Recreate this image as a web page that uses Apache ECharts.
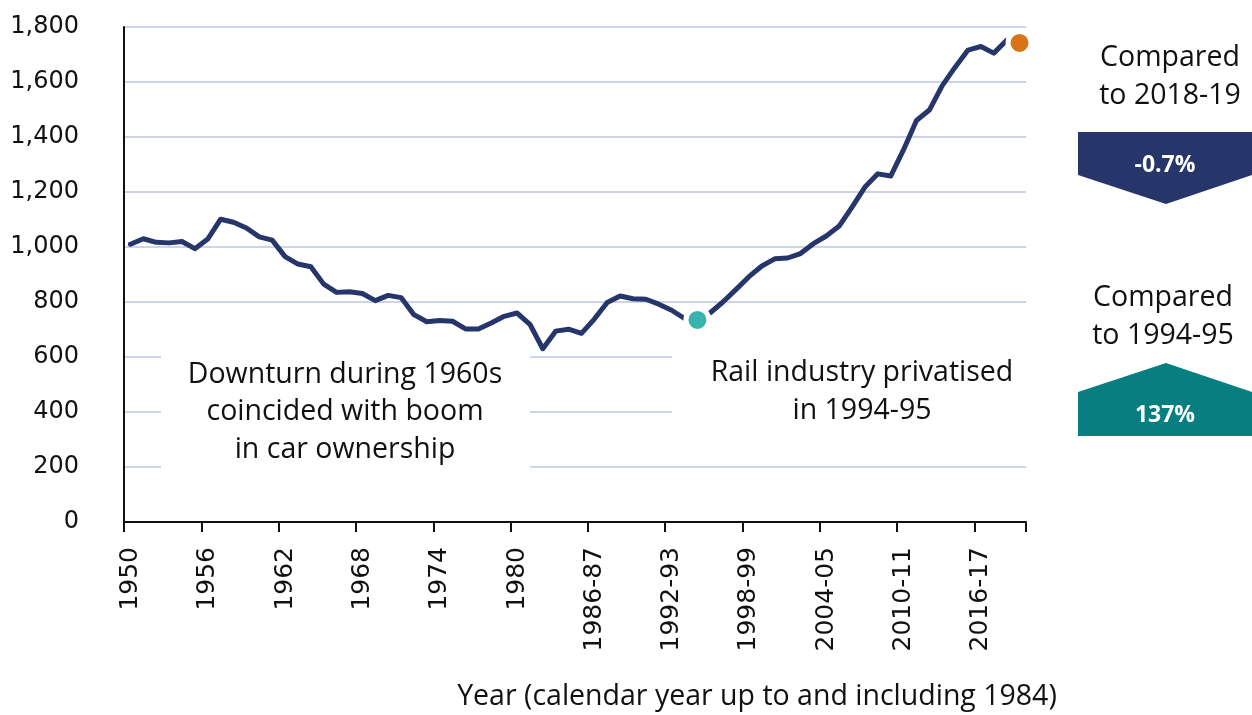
<!DOCTYPE html>
<html>
<head>
<meta charset="utf-8">
<script src="https://cdn.jsdelivr.net/npm/echarts@6/dist/echarts.min.js"></script>
<style>
  html, body { margin: 0; padding: 0; background: #ffffff; }
  #chart { width: 1252px; height: 715px; }
</style>
</head>
<body>
<div id="chart"></div>
<script>
// ---- data ----
const categories = [
  '1950','1951','1952','1953','1954','1955','1956','1957','1958','1959',
  '1960','1961','1962','1963','1964','1965','1966','1967','1968','1969',
  '1970','1971','1972','1973','1974','1975','1976','1977','1978','1979',
  '1980','1981','1982','1983','1984',
  '1985-86','1986-87','1987-88','1988-89','1989-90','1990-91','1991-92','1992-93','1993-94','1994-95',
  '1995-96','1996-97','1997-98','1998-99','1999-00','2000-01','2001-02','2002-03','2003-04','2004-05',
  '2005-06','2006-07','2007-08','2008-09','2009-10','2010-11','2011-12','2012-13','2013-14','2014-15',
  '2015-16','2016-17','2017-18','2018-19','2019-20'
];
// passenger journeys (millions)
const journeys = [
  1010, 1030, 1017, 1015, 1020, 994, 1029, 1101, 1090, 1069,
  1037, 1025, 965, 938, 928, 865, 835, 837, 831, 805,
  824, 816, 754, 728, 733, 730, 702, 702, 724, 748,
  760, 719, 630, 694, 701,
  686, 738, 798, 822, 812, 810, 792, 770, 740, 735,
  761, 801, 846, 892, 931, 957, 960, 976, 1012, 1040,
  1076, 1145, 1218, 1266, 1258, 1354, 1460, 1498, 1587, 1654,
  1716, 1729, 1705, 1752, 1742
];
const yTicks = [0, 200, 400, 600, 800, 1000, 1200, 1400, 1600, 1800];
const privatisedYear = '1994-95';
const latestYear = '2019-20';
const annotationLeft = ['Downturn during 1960s', 'coincided with boom', 'in car ownership'];
const annotationRight = ['Rail industry privatised', 'in 1994-95'];
const compareLatestTitle = ['Compared', 'to 2018-19'];
const compareLatestValue = '-0.7%';
const comparePrivTitle = ['Compared', 'to 1994-95'];
const comparePrivValue = '137%';
const xAxisTitle = 'Year (calendar year up to and including 1984)';

// ---- chart ----
const NAVY = '#26356a';
const TEAL_DOT = '#38b4ae';
const ORANGE = '#d97316';
const TEAL_BOX = '#077e80';
const GRID_COLOR = '#cdd4e9';
const TEXT_FONT = '"Open Sans"';
const TEXT_SIZE = '28.5px ';

const highlight = {};
highlight[privatisedYear] = TEAL_DOT;
highlight[latestYear] = ORANGE;

const seriesData = journeys.map((v, i) => {
  const c = highlight[categories[i]];
  if (!c) return v;
  return {
    value: v,
    symbol: 'circle',
    symbolSize: 23,
    itemStyle: { color: c, borderColor: '#ffffff', borderWidth: 5 }
  };
});

const chart = echarts.init(document.getElementById('chart'), null, { renderer: 'canvas' });

const txt = (x, y, lines, font, fill, lh) => ({
  type: 'text', z: 5, x: x, y: y,
  style: {
    text: lines.join('\n'), font: font, fill: fill,
    textAlign: 'center', textVerticalAlign: 'middle', align: 'center', verticalAlign: 'middle',
    lineHeight: lh
  }
});

const option = {
  animation: false,
  backgroundColor: '#ffffff',
  grid: { left: 124, right: 226, top: 27, bottom: 193, containLabel: false },
  xAxis: {
    type: 'category',
    data: categories,
    boundaryGap: true,
    axisLine: { show: true, lineStyle: { color: '#111111', width: 2 } },
    axisTick: { show: true, interval: 5, length: 10, lineStyle: { color: '#111111', width: 2 } },
    axisLabel: {
      interval: 5, rotate: 90, margin: 25,
      fontFamily: 'DejaVu Sans', fontSize: 25, color: '#111111'
    },
    splitLine: { show: false }
  },
  yAxis: {
    type: 'value',
    min: yTicks[0], max: yTicks[yTicks.length - 1], interval: 200,
    axisLine: { show: true, lineStyle: { color: '#111111', width: 2 } },
    axisTick: { show: false },
    axisLabel: {
      margin: 45, fontFamily: 'DejaVu Sans', fontSize: 24, color: '#111111',
      padding: [0, 0, 10, 0],
      formatter: v => v.toLocaleString('en-US')
    },
    splitLine: { show: true, lineStyle: { color: GRID_COLOR, width: 2 } }
  },
  series: [{
    type: 'line',
    data: seriesData,
    symbol: 'none',
    showSymbol: true,
    showAllSymbol: true,
    z: 3,
    lineStyle: { color: NAVY, width: 5, join: 'round', cap: 'round' },
    itemStyle: { color: NAVY }
  }],
  graphic: [
    // white panels behind annotation text (interrupt gridlines)
    { type: 'rect', z: 1, shape: { x: 161, y: 335, width: 369, height: 145 }, style: { fill: '#ffffff' } },
    { type: 'rect', z: 1, shape: { x: 672, y: 337, width: 360, height: 108 }, style: { fill: '#ffffff' } },
    txt(345, 412, annotationLeft, TEXT_SIZE + TEXT_FONT, '#111111', 37.5),
    txt(862, 392, annotationRight, TEXT_SIZE + TEXT_FONT, '#111111', 37.5),
    // comparison vs latest year
    txt(1170, 77, compareLatestTitle, TEXT_SIZE + TEXT_FONT, '#111111', 38),
    { type: 'polygon', z: 4, shape: { points: [[1078, 132], [1252, 132], [1252, 175], [1166, 204], [1078, 175]] },
      style: { fill: NAVY } },
    txt(1165, 165, [compareLatestValue], 'bold 23px ' + TEXT_FONT, '#ffffff', 26),
    // comparison vs privatisation year
    txt(1163, 317, comparePrivTitle, TEXT_SIZE + TEXT_FONT, '#111111', 38),
    { type: 'polygon', z: 4, shape: { points: [[1078, 392], [1166, 363], [1252, 392], [1252, 436], [1078, 436]] },
      style: { fill: TEAL_BOX } },
    txt(1165, 415, [comparePrivValue], 'bold 23px ' + TEXT_FONT, '#ffffff', 26),
    // x axis title
    txt(757, 697, [xAxisTitle], TEXT_SIZE + TEXT_FONT, '#111111', 32)
  ]
};
chart.setOption(option);
</script>
</body>
</html>
